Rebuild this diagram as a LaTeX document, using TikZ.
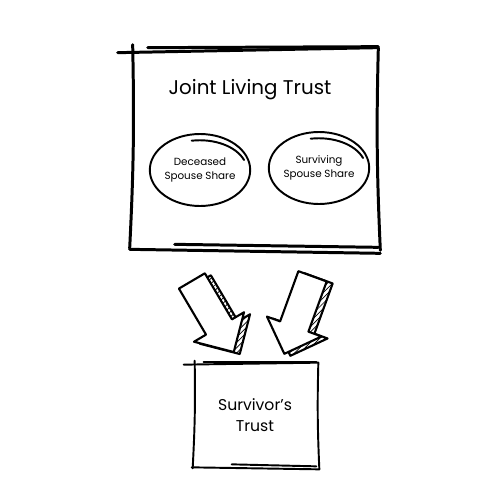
\documentclass[tikz,border=0pt]{standalone}
\usepackage{fontspec}
\setmainfont{Poppins}
\usetikzlibrary{shapes,arrows,calc,patterns,positioning}
\tikzset{sketch/.style={line width=1.7pt, line cap=round, line join=round},
         thinsketch/.style={line width=1.1pt, line cap=round, line join=round},
         trustbox/.style = {minimum width=5cm, minimum height=4cm},
         stbox/.style = {minimum width=2.52cm, minimum height=2.08cm, align=center, font=\fontsize{8.9}{12}\selectfont},
         share/.style = {ellipse, draw, line width=1.1pt, minimum width=2cm, minimum height=1.44cm, inner sep=0pt, align=center, font=\fontsize{5.9}{8}\selectfont},
         flow/.style = {single arrow, draw, line width=1.2pt, line join=round, fill=white, minimum height=1.65cm, single arrow head extend=0.28cm, inner xsep=0pt, inner ysep=0.28cm},
         flowside/.style = {flow, pattern=north east lines}}
\def\px{0.02cm}

\begin{document}
\begin{tikzpicture}[x=\px,y=-\px]
\useasboundingbox (0,0) rectangle (500,500);
\node (jlt) [trustbox] at (253,148) {};
\path (jlt.north)+(-3,42) node (title) [font=\fontsize{11.3}{14}\selectfont] {Joint Living Trust};
\node (dss) [share] at (200,170) {Deceased\\Spouse Share};
\node (sss) [share] at (319,168) {Surviving\\Spouse Share};
\node (st) [stbox] at (255,415) {Survivor’s\\Trust};

% Hand drawn edges of the big box
\draw [sketch] ($(jlt.north west)+(-10,5)$) -- ($(jlt.north east)+(-1,0)$);
\draw [sketch] ($(jlt.north west)+(20,0)$) -- ($(jlt.north east)+(0,-1)$);
\draw [sketch] ($(jlt.north west)+(5,-3)$) to[bend left=2] ($(jlt.south west)+(2,0)$);
\draw [sketch] (jlt.north east) to[bend right=2] ($(jlt.south east)+(2,2)$);
\draw [sketch] ($(jlt.south west)+(2,1)$) -- ($(jlt.south east)+(2,5)$);
\draw [sketch] ($(jlt.south west)+(47,-4)$) -- ($(jlt.south east)+(0,-1)$);

% inner ends of the ellipse strokes
\draw [thinsketch] ($(dss.center)+(44,-10)$) arc[start angle=20, end angle=100, x radius=0.94cm, y radius=0.6cm];
\draw [thinsketch] ($(sss.center)+(44,-10)$) arc[start angle=20, end angle=100, x radius=0.94cm, y radius=0.6cm];

% Hand drawn edges of the small box
\draw [thinsketch] ($(st.north west)+(-8,2)$) -- ($(st.north east)+(0,0)$);
\draw [thinsketch] ($(st.north west)+(12,-1)$) -- ($(st.north east)+(-2,-1)$);
\draw [thinsketch] ($(st.north west)+(3,-2)$) to[bend left=2] ($(st.south west)+(1,1)$);
\draw [thinsketch] (st.north east) to[bend right=2] ($(st.south east)+(1,2)$);
\draw [thinsketch] ($(st.south west)+(0,0)$) -- ($(st.south east)+(1,2)$);
\draw [thinsketch] ($(st.south west)+(40,-3)$) -- ($(st.south east)+(-2,-1)$);

% Block arrows with hatched sides
\node [flowside, rotate=-59.5] at (215,312) {};
\node (lflow) [flow, rotate=-59.5] at (209,310) {};
\node [flowside, rotate=-110] at (307,310) {};
\node (rflow) [flow, rotate=-110] at (301,308) {};
\end{tikzpicture}
\end{document}
